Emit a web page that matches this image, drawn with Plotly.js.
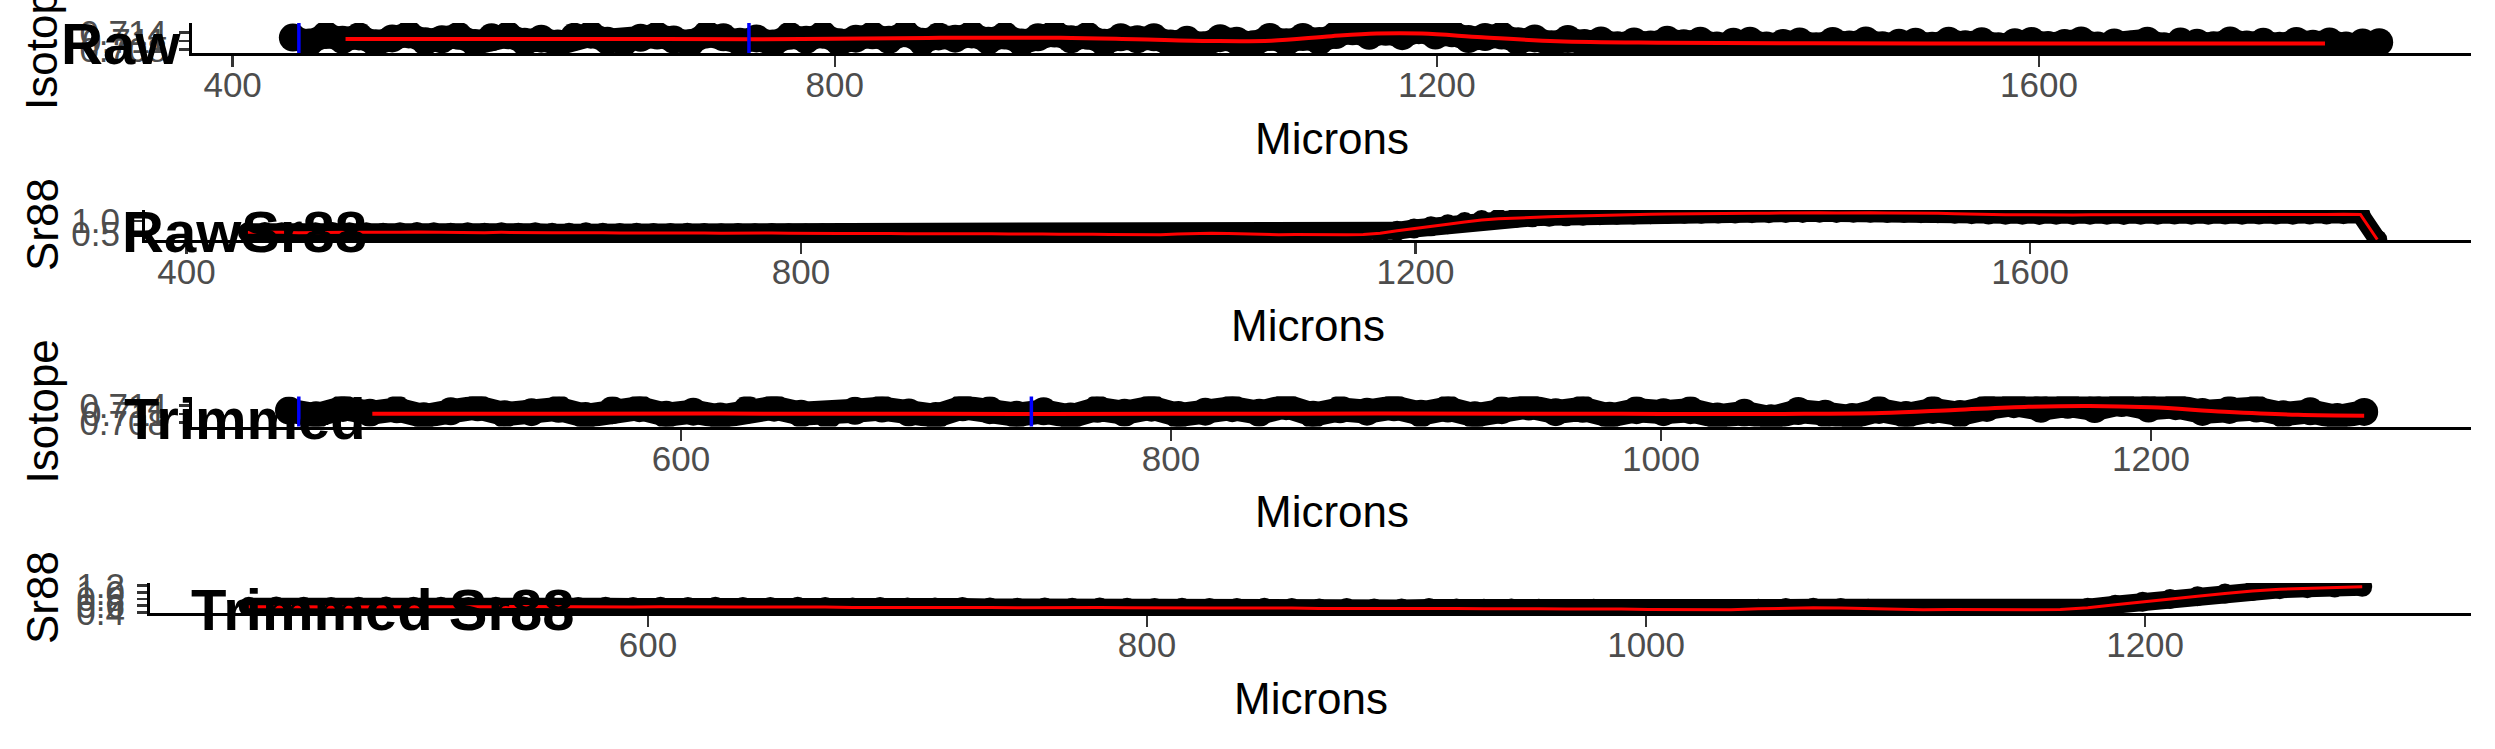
<!DOCTYPE html>
<html>
<head>
<meta charset="utf-8">
<script src="https://cdn.plot.ly/plotly-3.0.1.min.js"></script>
<style>html,body{margin:0;padding:0;background:#fff;}#chart{width:2495px;height:749px;}</style>
</head>
<body>
<div id="chart"></div>
<script>
// ---------------- DATA ----------------
const panelTitles = ["Raw", "RawSr88", "Trimmed", "Trimmed Sr88"];
const yTitles = ["Isotope", "Sr88", "Isotope", "Sr88"];
const xTitle = "Microns";

const micron = [440,451,462,473,484,495,506,517,528,539,550,561,572,583,594,605,616,627,638,649,
660,671,682,693,704,715,726,737,748,759,770,781,792,803,814,825,836,847,858,869,
880,891,902,913,924,935,946,957,968,979,990,1001,1012,1023,1034,1045,1056,1067,1078,1089,
1100,1111,1122,1133,1144,1155,1166,1177,1188,1199,1210,1221,1232,1243,1254,1265,1276,1287,1298,1309,
1320,1331,1342,1353,1364,1375,1386,1397,1408,1419,1430,1441,1452,1463,1474,1485,1496,1507,1518,1529,
1540,1551,1562,1573,1584,1595,1606,1617,1628,1639,1650,1661,1672,1683,1694,1705,1716,1727,1738,1749,
1760,1771,1782,1793,1804,1815,1826];

const isotopeRaw = [0.7122,0.7105,0.7131,0.7114,0.7126,0.7102,0.7119,0.7133,0.7109,0.7116,
0.7128,0.7103,0.7123,0.7130,0.7107,0.7118,0.7101,0.7125,0.7132,0.7111,
0.7106,0.7121,0.7129,0.7115,0.7103,0.7133,0.7123,0.7107,0.7119,0.7101,
0.7128,0.7114,0.7132,0.7106,0.7118,0.7130,0.7114,0.7137,0.7107,0.7126,
0.7118,0.7133,0.7111,0.7129,0.7105,0.7123,0.7136,0.7116,0.7128,0.7104,
0.7123,0.7116,0.7123,0.7101,0.7114,0.7095,0.7120,0.7111,0.7099,0.7124,
0.7106,0.7124,0.7110,0.7131,0.7144,0.7128,0.7142,0.7127,0.7148,0.7129,
0.7137,0.7117,0.7124,0.7129,0.7109,0.7119,0.7099,0.7117,0.7103,0.7112,
0.7095,0.7108,0.7098,0.7114,0.7102,0.7111,0.7094,0.7107,0.7111,0.7094,
0.7103,0.7108,0.7092,0.7110,0.7098,0.7112,0.7095,0.7104,0.7107,0.7093,
0.7111,0.7099,0.7109,0.7092,0.7106,0.7110,0.7096,0.7103,0.7112,0.7094,
0.7105,0.7097,0.7111,0.7092,0.7108,0.7104,0.7095,0.7112,0.7098,0.7107,
0.7093,0.7110,0.7100,0.7108,0.7094,0.7105,0.7106];

const sr88Raw = [0.57,0.58,0.57,0.56,0.57,0.58,0.57,0.57,0.56,0.57,
0.58,0.57,0.56,0.57,0.56,0.57,0.56,0.57,0.56,0.56,
0.57,0.56,0.55,0.56,0.55,0.55,0.56,0.55,0.54,0.55,
0.54,0.55,0.54,0.53,0.54,0.53,0.53,0.54,0.53,0.52,
0.53,0.52,0.52,0.53,0.52,0.51,0.52,0.51,0.50,0.51,
0.50,0.49,0.48,0.49,0.48,0.51,0.53,0.54,0.53,0.51,
0.49,0.48,0.49,0.48,0.47,0.48,0.49,0.54,0.63,0.72,
0.80,0.88,0.96,1.04,1.09,1.12,1.14,1.16,1.18,1.20,
1.22,1.24,1.25,1.26,1.27,1.28,1.28,1.29,1.29,1.30,
1.30,1.31,1.31,1.32,1.31,1.32,1.32,1.31,1.31,1.30,
1.30,1.28,1.26,1.25,1.24,1.24,1.23,1.24,1.23,1.24,
1.24,1.23,1.24,1.24,1.25,1.24,1.24,1.25,1.24,1.25,
1.25,1.24,1.25,1.25,1.26,1.25,0.30];

// smoothed isotope curves (red)
const rawSmoothX = [475,550,650,750,800,870,950,1000,1050,1090,1130,1160,1190,1230,1280,1350,1450,1600,1700,1790];
const rawSmoothY = [0.7117,0.7117,0.7117,0.7116,0.7118,0.7121,0.7121,0.7116,0.7110,0.7111,0.7127,0.7136,0.7136,0.7123,0.7109,0.7104,0.7102,0.7101,0.7101,0.7101];
const trimSmoothX = [474,550,650,750,850,950,1000,1050,1090,1120,1150,1175,1200,1230,1260,1287];
const trimSmoothY = [0.7111,0.7111,0.7111,0.7110,0.7111,0.7111,0.7110,0.7110,0.7113,0.7124,0.7135,0.7138,0.7133,0.7118,0.7107,0.7104];

const trimEnd = 1290;               // trimmed data keep microns <= this
const blueMarks = [444, 743];       // vertical blue markers (microns)

const xTicksRaw = [400, 800, 1200, 1600];
const xTicksTrim = [600, 800, 1000, 1200];
const yTicksIso = [0.708, 0.711, 0.714];
const yTicksSrRaw = [0.5, 1.0];
const yTicksSrTrim = [0.4, 0.6, 0.8, 1.0, 1.2];

// ---------------- LAYOUT GEOMETRY ----------------
const W = 2495, H = 749;
const FONT = "Liberation Sans, Arial, Helvetica, sans-serif";
const PH = 30, RIGHT = 2471;
const panels = [
  {left:192, bottom:53,    xr:[373,1887],     xt:xTicksRaw,  yr:[0.7068,0.7173], yt:yTicksIso,    yf:'.3f', tl:[59,63]},
  {left:145, bottom:240,   xr:[373,1887],     xt:xTicksRaw,  yr:[0.28,1.42],     yt:yTicksSrRaw,  yf:'.1f', tl:[120,252]},
  {left:192, bottom:426.5, xr:[400.4,1330.6], xt:xTicksTrim, yr:[0.7066,0.7171], yt:yTicksIso,    yf:'.3f', tl:[122,438]},
  {left:150, bottom:613,   xr:[400.4,1330.6], xt:xTicksTrim, yr:[0.385,1.274],   yt:yTicksSrTrim, yf:'.1f', tl:[189,629]}
];

const trimX = micron.filter(v => v <= trimEnd);
const trimIso = isotopeRaw.filter((v,i) => micron[i] <= trimEnd);
const trimSr = sr88Raw.filter((v,i) => micron[i] <= trimEnd);

const series = [
  {pts:[micron, isotopeRaw], line:[rawSmoothX, rawSmoothY],   lw:4, ms:28, bw:24, spline:true},
  {pts:[micron, sr88Raw],    line:[micron, sr88Raw],          lw:3, ms:20, bw:18, spline:false},
  {pts:[trimX, trimIso],     line:[trimSmoothX, trimSmoothY], lw:4, ms:28, bw:24, spline:true},
  {pts:[trimX, trimSr],      line:[trimX, trimSr],            lw:3, ms:20, bw:18, spline:false}
];

const traces = [];
const layout = {
  width: W, height: H,
  margin: {l:0, r:0, t:0, b:0},
  paper_bgcolor: '#fff', plot_bgcolor: 'rgba(0,0,0,0)',
  showlegend: false,
  font: {family: FONT, color: '#000'},
  shapes: [], annotations: []
};

panels.forEach((p, i) => {
  const n = i + 1;
  const xa = 'x' + (n === 1 ? '' : n), ya = 'y' + (n === 1 ? '' : n);
  const s = series[i];
  traces.push({x: s.pts[0], y: s.pts[1], xaxis: xa, yaxis: ya, type: 'scatter', mode: 'lines+markers',
    line: {color: '#000', width: s.bw}, marker: {color: '#000', size: s.ms}, hoverinfo: 'skip'});
  traces.push({x: s.line[0], y: s.line[1], xaxis: xa, yaxis: ya, type: 'scatter', mode: 'lines',
    line: {color: '#ff0000', width: s.lw, shape: s.spline ? 'spline' : 'linear'}, hoverinfo: 'skip'});

  layout['xaxis' + (n === 1 ? '' : n)] = {
    domain: [p.left / W, RIGHT / W], anchor: ya, range: p.xr,
    showline: true, linecolor: '#000', linewidth: 3,
    ticks: 'outside', ticklen: 11, tickwidth: 2.5, tickcolor: '#333',
    ticklabelstandoff: -12,
    tickvals: p.xt, tickfont: {size: 35, color: '#4d4d4d', family: FONT},
    showgrid: false, zeroline: false, fixedrange: true
  };
  layout['yaxis' + (n === 1 ? '' : n)] = {
    domain: [(H - p.bottom) / H, (H - p.bottom + PH) / H], anchor: xa, range: p.yr,
    showline: true, linecolor: '#000', linewidth: 3,
    ticks: 'outside', ticklen: 10, tickwidth: 2.5, tickcolor: '#333',
    ticklabelstandoff: 5,
    tickvals: p.yt, tickformat: p.yf, tickfont: {size: 35, color: '#4d4d4d', family: FONT},
    showgrid: false, zeroline: false, fixedrange: true
  };

  // x-axis title
  layout.annotations.push({xref: 'paper', yref: 'paper', x: (p.left + RIGHT) / 2 / W, y: 1 - (p.bottom + 85) / H,
    xanchor: 'center', yanchor: 'middle', showarrow: false, text: xTitle,
    font: {size: 44, color: '#000', family: FONT}});
  // y-axis title
  layout.annotations.push({xref: 'paper', yref: 'paper', x: 42 / W, y: 1 - (p.bottom - PH / 2) / H,
    xanchor: 'center', yanchor: 'middle', showarrow: false, text: yTitles[i], textangle: -90,
    font: {size: 44, color: '#000', family: FONT}});
  // panel label
  layout.annotations.push({xref: 'paper', yref: 'paper', x: p.tl[0] / W, y: 1 - (p.tl[1] - 20) / H,
    xanchor: 'left', yanchor: 'middle', showarrow: false, text: '<b>' + panelTitles[i] + '</b>',
    font: {size: 58, color: '#000', family: FONT}});

  if (i === 0 || i === 2) {
    blueMarks.forEach(b => layout.shapes.push({type: 'line', xref: xa, yref: ya + ' domain',
      x0: b, x1: b, y0: 0, y1: 1, line: {color: '#0000ff', width: 3.5}, layer: 'above'}));
  }
});

Plotly.newPlot('chart', traces, layout, {staticPlot: true, displayModeBar: false});
</script>
</body>
</html>
